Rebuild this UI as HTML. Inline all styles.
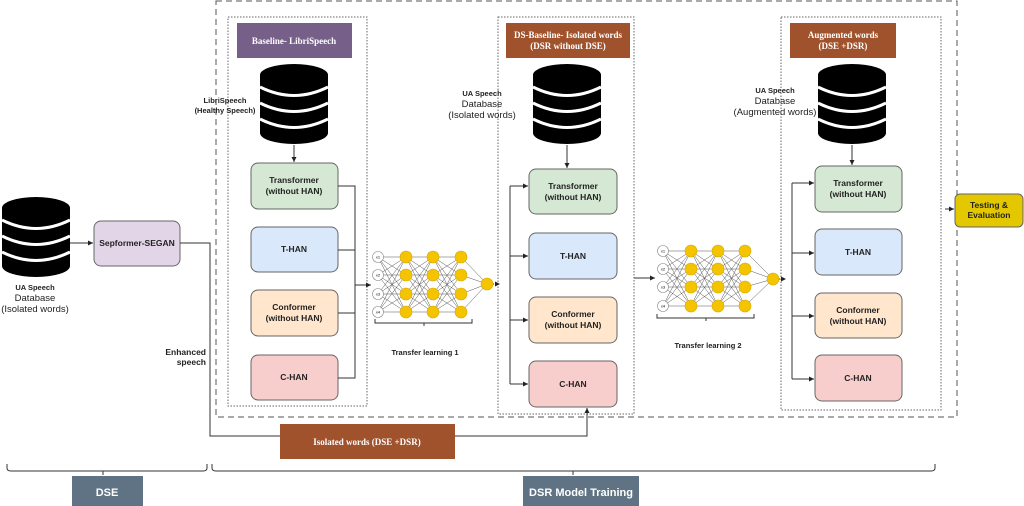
<!DOCTYPE html>
<html><head><meta charset="utf-8"><style>
body{margin:0;background:#fff;}
svg{display:block;font-family:"Liberation Sans",sans-serif;}
.b{font-weight:bold;font-size:8.5px;fill:#222;text-anchor:middle;}
.s{font-family:"Liberation Serif",serif;font-weight:bold;font-size:9px;fill:#fff;text-anchor:middle;}
.l{stroke:#333;stroke-width:1;fill:none;}
</style></head><body>
<svg id="s" width="1024" height="506" viewBox="0 0 1024 506" xmlns="http://www.w3.org/2000/svg">
<defs>
<marker id="a" markerWidth="6" markerHeight="6" refX="5" refY="3" orient="auto"><path d="M0,0.5 L5,3 L0,5.5z" fill="#222"/></marker>
<g id="db"><g fill="#000">
<ellipse cx="0" cy="0" rx="34" ry="11"/>
<rect x="-34" y="0" width="68" height="58"/>
<ellipse cx="0" cy="58" rx="34" ry="11"/></g>
<path d="M-34,12 Q0,29 34,12 M-34,28 Q0,45 34,28 M-34,44 Q0,61 34,44" stroke="#fff" stroke-width="3" fill="none"/>
</g>
</defs>
<rect x="216" y="1" width="741" height="416" fill="none" stroke="#555" stroke-dasharray="6,4"/>
<rect x="228" y="17" width="139" height="389" fill="none" stroke="#666" stroke-dasharray="1.5,1.5"/>
<rect x="498" y="17" width="136" height="397" fill="none" stroke="#666" stroke-dasharray="1.5,1.5"/>
<rect x="781" y="17" width="160" height="393" fill="none" stroke="#666" stroke-dasharray="1.5,1.5"/>
<rect x="237" y="23" width="115" height="35" fill="#76608a"/>
<text class="s" x="294" y="44">Baseline- LibriSpeech</text>
<rect x="506" y="23" width="124" height="35" fill="#a0522d"/>
<text class="s" x="568" y="38">DS-Baseline- Isolated words</text>
<text class="s" x="568" y="49">(DSR without DSE)</text>
<rect x="790" y="23" width="106" height="35" fill="#a0522d"/>
<text class="s" x="843" y="38">Augmented words</text>
<text class="s" x="843" y="49">(DSE +DSR)</text>
<use href="#db" x="294" y="75"/>
<use href="#db" x="567" y="75"/>
<use href="#db" x="852" y="75"/>
<use href="#db" x="36" y="208"/>
<text class="b" x="225" y="103" style="font-size:7.5px">LibriSpeech</text>
<text class="b" x="225" y="113" style="font-size:7.5px">(Healthy Speech)</text>
<text class="b" x="482" y="96" style="font-size:7.5px">UA Speech</text>
<text x="482" y="107" style="font-size:9.5px;text-anchor:middle;fill:#222">Database</text>
<text x="482" y="118" style="font-size:9.5px;text-anchor:middle;fill:#222">(Isolated words)</text>
<text class="b" x="775" y="93" style="font-size:7.5px">UA Speech</text>
<text x="775" y="104" style="font-size:9.5px;text-anchor:middle;fill:#222">Database</text>
<text x="775" y="115" style="font-size:9.5px;text-anchor:middle;fill:#222">(Augmented words)</text>
<text class="b" x="35" y="290" style="font-size:7.5px">UA Speech</text>
<text x="35" y="301" style="font-size:9.5px;text-anchor:middle;fill:#222">Database</text>
<text x="35" y="312" style="font-size:9.5px;text-anchor:middle;fill:#222">(Isolated words)</text>
<line class="l" x1="294" y1="145" x2="294" y2="162" marker-end="url(#a)"/>
<line class="l" x1="567" y1="145" x2="567" y2="168" marker-end="url(#a)"/>
<line class="l" x1="852" y1="145" x2="852" y2="165" marker-end="url(#a)"/>
<g stroke="#666" stroke-width="1">
<rect x="251" y="163" width="87" height="46" rx="7" fill="#d5e8d4"/>
<rect x="251" y="227" width="87" height="45" rx="7" fill="#dae8fc"/>
<rect x="251" y="290" width="87" height="46" rx="7" fill="#ffe6cc"/>
<rect x="251" y="355" width="87" height="45" rx="7" fill="#f8cecc"/>
<rect x="529" y="169" width="88" height="45" rx="7" fill="#d5e8d4"/>
<rect x="529" y="233" width="88" height="46" rx="7" fill="#dae8fc"/>
<rect x="529" y="297" width="88" height="46" rx="7" fill="#ffe6cc"/>
<rect x="529" y="361" width="88" height="46" rx="7" fill="#f8cecc"/>
<rect x="815" y="166" width="87" height="46" rx="7" fill="#d5e8d4"/>
<rect x="815" y="229" width="87" height="46" rx="7" fill="#dae8fc"/>
<rect x="815" y="293" width="87" height="45" rx="7" fill="#ffe6cc"/>
<rect x="815" y="355" width="87" height="46" rx="7" fill="#f8cecc"/>
<rect x="94" y="221" width="86" height="45" rx="7" fill="#e1d5e7"/>
<rect x="955" y="194" width="68" height="33" rx="5" fill="#e3c800"/>
</g>
<text x="294" y="183" class="b">Transformer</text><text x="294" y="194" class="b">(without HAN)</text>
<text x="294" y="252" class="b">T-HAN</text>
<text x="294" y="310" class="b">Conformer</text><text x="294" y="321" class="b">(without HAN)</text>
<text x="294" y="380" class="b">C-HAN</text>
<text x="573" y="189" class="b">Transformer</text><text x="573" y="200" class="b">(without HAN)</text>
<text x="573" y="259" class="b">T-HAN</text>
<text x="573" y="317" class="b">Conformer</text><text x="573" y="328" class="b">(without HAN)</text>
<text x="573" y="387" class="b">C-HAN</text>
<text x="858" y="186" class="b">Transformer</text><text x="858" y="197" class="b">(without HAN)</text>
<text x="858" y="255" class="b">T-HAN</text>
<text x="858" y="313" class="b">Conformer</text><text x="858" y="324" class="b">(without HAN)</text>
<text x="858" y="381" class="b">C-HAN</text>
<text x="137" y="246" class="b">Sepformer-SEGAN</text>
<text x="989" y="208" class="b">Testing &amp;</text><text x="989" y="218" class="b">Evaluation</text>
<path class="l" d="M338,186 H355 V378 H338 M338,250 H355 M338,313 H355"/>
<line class="l" x1="355" y1="285" x2="371" y2="285" marker-end="url(#a)"/>
<line class="l" x1="492" y1="284" x2="500" y2="284" stroke-dasharray="2,2" marker-end="url(#a)"/>
<path class="l" d="M510,186 V384"/>
<line class="l" x1="510" y1="186" x2="528" y2="186" marker-end="url(#a)"/>
<line class="l" x1="510" y1="256" x2="528" y2="256" marker-end="url(#a)"/>
<line class="l" x1="510" y1="320" x2="528" y2="320" marker-end="url(#a)"/>
<line class="l" x1="510" y1="384" x2="528" y2="384" marker-end="url(#a)"/>
<line class="l" x1="634" y1="278" x2="655" y2="278" marker-end="url(#a)"/>
<line class="l" x1="778" y1="279" x2="786" y2="279" stroke-dasharray="2,2" marker-end="url(#a)"/>
<path class="l" d="M792,183 V379"/>
<line class="l" x1="792" y1="183" x2="814" y2="183" marker-end="url(#a)"/>
<line class="l" x1="792" y1="253" x2="814" y2="253" marker-end="url(#a)"/>
<line class="l" x1="792" y1="316" x2="814" y2="316" marker-end="url(#a)"/>
<line class="l" x1="792" y1="379" x2="814" y2="379" marker-end="url(#a)"/>
<line class="l" x1="945" y1="209" x2="954" y2="209" marker-end="url(#a)"/>
<line class="l" x1="70" y1="243" x2="93" y2="243" marker-end="url(#a)"/>
<path class="l" d="M180,243 H210 V436 H587 V408"/>
<line class="l" x1="587" y1="416" x2="587" y2="408" marker-end="url(#a)"/>
<rect x="280" y="424" width="175" height="35" fill="#a0522d"/>
<text class="s" x="367" y="445">Isolated words (DSE +DSR)</text>
<text class="b" x="206" y="355" style="text-anchor:end">Enhanced</text>
<text class="b" x="206" y="365" style="text-anchor:end">speech</text>
<g id="n1"></g><g id="n2"></g>
<text class="b" x="425" y="355" style="font-size:7.5px">Transfer learning 1</text>
<text class="b" x="708" y="348" style="font-size:7.5px">Transfer learning 2</text>
<path class="l" stroke="#777" d="M375,319 v4 h49 v3 M424,323 h48 v-4"/>
<path class="l" stroke="#777" d="M657,314 v4 h49 v3 M706,318 h48 v-4"/>
<path class="l" stroke="#888" d="M7,464 v4 q0,3 4,3 h92 v4 M103,471 h100 q4,0 4,-3 v-4"/>
<path class="l" stroke="#888" d="M212,464 v4 q0,3 4,3 h357 v4 M573,471 h358 q4,0 4,-3 v-4"/>
<rect x="72" y="476" width="71" height="30" fill="#5f7384"/>
<text x="107" y="496" style="font-weight:bold;font-size:11px;fill:#fff;text-anchor:middle">DSE</text>
<rect x="523" y="476" width="116" height="30" fill="#5f7384"/>
<text x="581" y="496" style="font-weight:bold;font-size:11px;fill:#fff;text-anchor:middle">DSR Model Training</text>
</svg>
<script>
function net(id,xs,ys,ox,oy){
 var g=document.getElementById(id),h='';
 for(var c=0;c<3;c++)for(var i=0;i<4;i++)for(var j=0;j<4;j++)
  h+='<line x1="'+xs[c]+'" y1="'+ys[i]+'" x2="'+xs[c+1]+'" y2="'+ys[j]+'" stroke="#555" stroke-width="0.5"/>';
 for(var i=0;i<4;i++)h+='<line x1="'+xs[3]+'" y1="'+ys[i]+'" x2="'+ox+'" y2="'+oy+'" stroke="#555" stroke-width="0.5"/>';
 for(var i=0;i<4;i++)h+='<circle cx="'+xs[0]+'" cy="'+ys[i]+'" r="5.5" fill="#fff" stroke="#888" stroke-width="0.6"/><text x="'+xs[0]+'" y="'+(ys[i]+1.5)+'" font-size="4" text-anchor="middle">x'+(i+1)+'</text>';
 for(var c=1;c<4;c++)for(var i=0;i<4;i++)h+='<circle cx="'+xs[c]+'" cy="'+ys[i]+'" r="6" fill="#f5c400" stroke="#d8a800" stroke-width="0.6"/>';
 h+='<circle cx="'+ox+'" cy="'+oy+'" r="6" fill="#f5c400" stroke="#d8a800" stroke-width="0.6"/>';
 g.innerHTML=h;
}
net('n1',[378,406,433,461],[257,275,294,312],487,284);
net('n2',[663,691,718,745],[251,269,287,306],773,279);
</script>
</body></html>
